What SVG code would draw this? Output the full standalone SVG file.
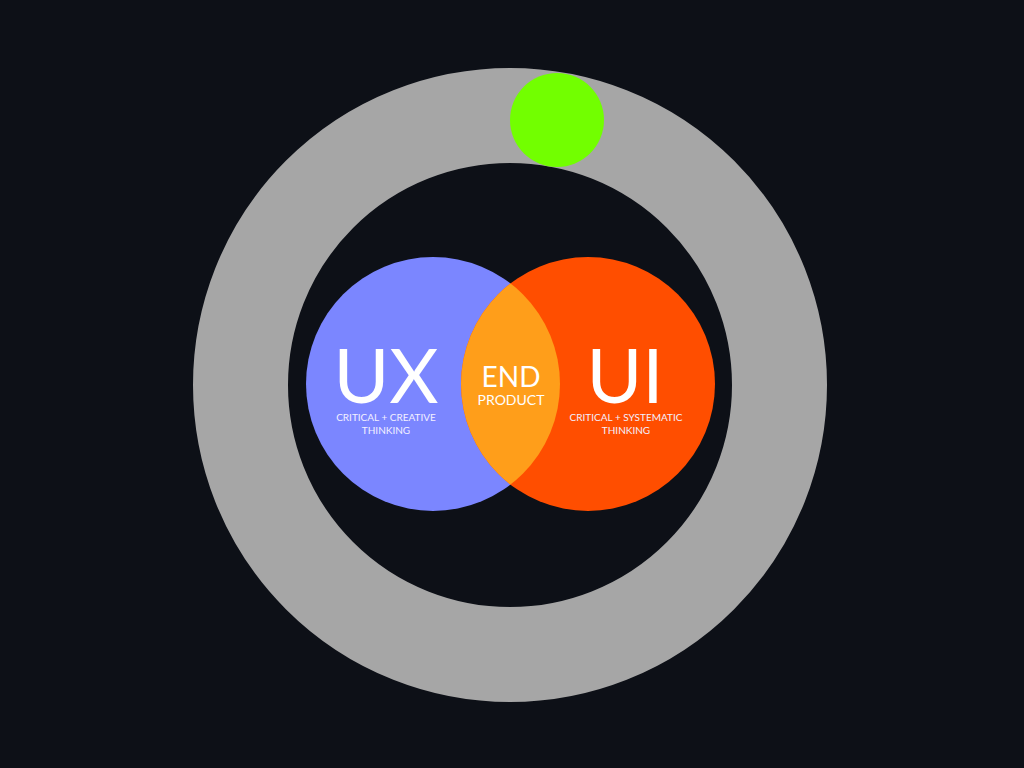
<svg xmlns="http://www.w3.org/2000/svg" width="1024" height="768" viewBox="0 0 1024 768">
<defs>
<style>
.t{font-family:Lato,"Open Sans","Liberation Sans",sans-serif;fill:#fff;text-anchor:middle}
.big{font-size:76px;font-weight:400}
.mid{font-size:28px;font-weight:400}
.sm{font-size:14px;font-weight:400}
.xs{font-size:10px;font-weight:400;fill:#f3f0ff}
</style>
<clipPath id="uxc"><circle cx="433" cy="384" r="127"/></clipPath>
</defs>
<rect width="1024" height="768" fill="#0d1017"/>
<g id="ring"><circle cx="510" cy="385" r="269.5" fill="none" stroke="#a6a6a6" stroke-width="95"/></g>
<g id="marker"><circle cx="557" cy="120" r="47" fill="#72ff00"/></g>
<g id="ux"><circle cx="433" cy="384" r="127" fill="#7b86ff"/></g>
<g id="ui"><circle cx="588" cy="384" r="127" fill="#ff4e00"/></g>
<g id="overlap"><circle cx="588" cy="384" r="127" fill="#ff9e1a" clip-path="url(#uxc)"/></g>
<g id="labels">
<text class="t big" x="386" y="403">UX</text>
<text class="t xs" x="386" y="421">CRITICAL + CREATIVE</text>
<text class="t xs" x="386" y="434">THINKING</text>
<text class="t big" x="625" y="403">UI</text>
<text class="t xs" x="626" y="421">CRITICAL + SYSTEMATIC</text>
<text class="t xs" x="626" y="434">THINKING</text>
<text class="t mid" x="511" y="387">END</text>
<text class="t sm" x="511" y="405">PRODUCT</text>
</g>
</svg>
